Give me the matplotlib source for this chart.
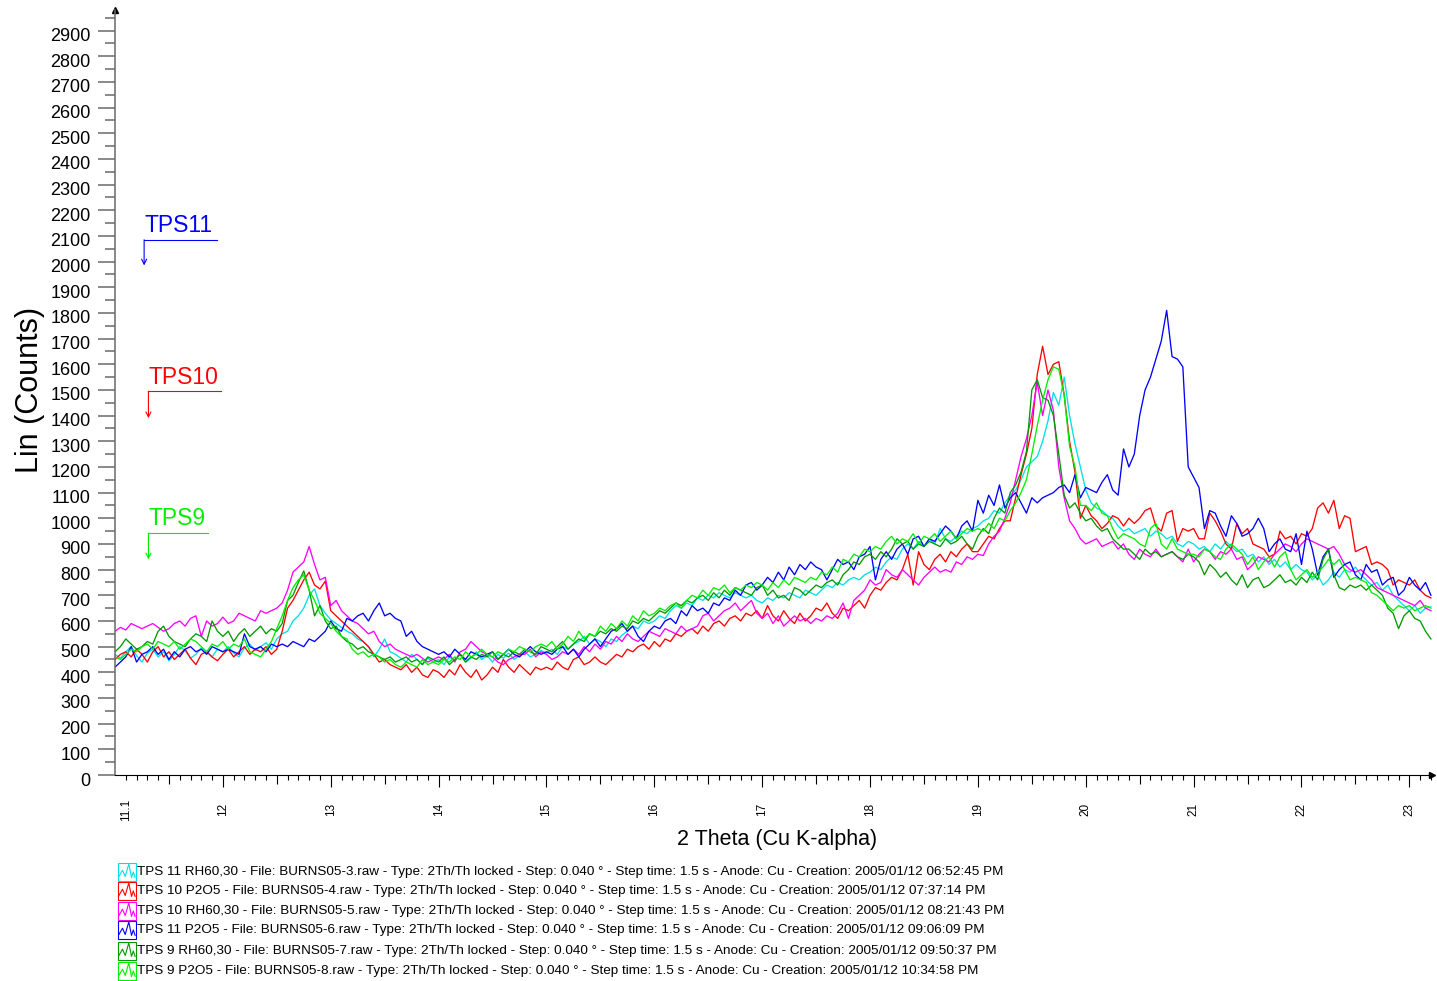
import numpy as np
import matplotlib.pyplot as plt
from matplotlib.lines import Line2D
from matplotlib.patches import Rectangle
from matplotlib.transforms import ScaledTranslation

plt.rcParams['font.family'] = ['Liberation Sans', 'DejaVu Sans']

# Lin (counts) per 0.05 deg step, starting at 11.00 deg 2-theta (one row per degree)
tps11_rh = (
    [470, 455, 480, 500, 465, 440, 475, 490, 460, 480, 445, 470, 500, 485, 455, 470, 495, 480, 460, 490] +  # 11
    [480, 500, 475, 460, 495, 510, 485, 500, 515, 490, 530, 550, 560, 600, 620, 650, 700, 725, 660, 630] +  # 12
    [605, 590, 575, 560, 550, 530, 520, 500, 460, 490, 530, 480, 470, 455, 440, 470, 450, 430, 455, 440] +  # 13
    [450, 430, 460, 445, 470, 440, 455, 480, 450, 465, 440, 470, 455, 475, 450, 465, 480, 460, 470, 485] +  # 14
    [475, 490, 470, 500, 490, 510, 520, 540, 510, 530, 520, 500, 530, 520, 545, 560, 580, 570, 600, 590] +  # 15
    [600, 620, 610, 640, 660, 650, 670, 660, 690, 680, 700, 690, 710, 700, 690, 710, 700, 690, 700, 680] +  # 16
    [670, 690, 680, 700, 690, 710, 700, 690, 720, 710, 700, 720, 740, 730, 750, 740, 760, 770, 760, 780] +  # 17
    [790, 810, 800, 830, 850, 840, 880, 900, 880, 910, 890, 920, 900, 960, 920, 910, 930, 950, 940, 960] +  # 18
    [970, 990, 1000, 1030, 1020, 1060, 1090, 1110, 1150, 1200, 1220, 1240, 1300, 1380, 1490, 1440, 1550, 1400, 1290, 1200] +  # 19
    [1110, 1060, 1040, 1030, 1010, 1000, 970, 950, 960, 940, 950, 960, 930, 950, 940, 920, 930, 900, 890, 910] +  # 20
    [900, 880, 890, 870, 900, 880, 910, 890, 870, 880, 850, 860, 830, 850, 820, 840, 810, 830, 800, 820] +  # 21
    [800, 790, 760, 780, 740, 760, 790, 770, 800, 790, 810, 780, 760, 740, 750, 720, 740, 700, 680, 660] +  # 22
    [640, 660, 630, 650, 655]  # 23
)

tps10_p2o5 = (
    [450, 470, 480, 460, 490, 470, 440, 480, 500, 460, 480, 450, 470, 490, 455, 430, 470, 480, 460, 445] +
    [470, 490, 460, 480, 500, 470, 490, 480, 500, 470, 490, 560, 650, 680, 720, 760, 790, 740, 725, 755] +
    [640, 620, 600, 580, 560, 540, 520, 500, 470, 440, 450, 430, 420, 410, 430, 400, 420, 390, 380, 410] +
    [400, 380, 410, 390, 430, 400, 380, 410, 370, 390, 420, 400, 450, 420, 400, 430, 410, 390, 420, 410] +
    [420, 410, 440, 420, 410, 450, 460, 430, 440, 460, 440, 430, 450, 470, 460, 490, 480, 500, 510, 490] +
    [520, 500, 530, 520, 550, 540, 560, 570, 550, 580, 560, 590, 600, 580, 610, 620, 600, 630, 620, 640] +
    [610, 660, 620, 600, 640, 610, 590, 630, 600, 620, 650, 640, 670, 630, 610, 650, 640, 660, 680, 650] +
    [700, 730, 720, 750, 770, 760, 800, 860, 740, 870, 820, 800, 840, 860, 830, 870, 850, 880, 900, 870] +
    [870, 900, 930, 920, 960, 990, 990, 1080, 1170, 1250, 1350, 1560, 1670, 1560, 1600, 1610, 1480, 1300, 1180, 1000] +
    [1050, 1010, 990, 960, 980, 1010, 1000, 970, 1000, 980, 1000, 1030, 1040, 970, 950, 1020, 1030, 910, 960, 950] +
    [960, 920, 920, 1020, 990, 950, 900, 880, 980, 940, 960, 900, 890, 880, 850, 860, 950, 920, 930, 900] +
    [940, 930, 960, 1040, 1060, 1020, 1070, 960, 1010, 1000, 870, 880, 890, 820, 830, 820, 800, 740, 760, 750] +
    [740, 760, 720, 700, 690]
)

tps10_rh = (
    [560, 575, 565, 590, 580, 570, 580, 590, 575, 560, 570, 590, 600, 580, 610, 620, 540, 600, 580, 590] +
    [615, 590, 600, 630, 620, 610, 600, 640, 630, 640, 650, 670, 720, 790, 810, 830, 890, 820, 760, 770] +
    [660, 680, 640, 620, 600, 590, 570, 550, 560, 520, 500, 510, 490, 480, 470, 460, 470, 455, 440, 450] +
    [460, 450, 470, 440, 480, 490, 520, 500, 480, 470, 460, 440, 430, 450, 460, 470, 470, 490, 460, 480] +
    [470, 450, 460, 480, 470, 490, 470, 500, 480, 510, 490, 520, 510, 540, 520, 550, 530, 520, 540, 560] +
    [550, 540, 570, 560, 550, 580, 560, 570, 580, 620, 630, 600, 620, 640, 650, 670, 640, 660, 680, 630] +
    [610, 630, 590, 620, 580, 600, 620, 600, 610, 590, 610, 600, 620, 610, 630, 670, 610, 680, 700, 720] +
    [760, 740, 750, 800, 780, 770, 800, 780, 760, 740, 770, 790, 810, 790, 800, 790, 830, 820, 850, 840] +
    [860, 855, 900, 930, 950, 1000, 1060, 1150, 1240, 1310, 1400, 1530, 1400, 1500, 1420, 1200, 1080, 990, 960, 920] +
    [900, 910, 920, 890, 900, 910, 880, 900, 860, 840, 880, 860, 850, 880, 850, 860, 870, 850, 830, 880] +
    [830, 860, 880, 870, 840, 870, 860, 880, 840, 850, 800, 820, 850, 840, 830, 860, 880, 900, 890, 870] +
    [900, 920, 910, 900, 890, 880, 890, 860, 820, 800, 790, 800, 780, 760, 730, 720, 710, 700, 690, 680] +
    [670, 660, 680, 650, 640]
)

tps11_p2o5 = (
    [420, 440, 460, 500, 440, 470, 480, 500, 470, 490, 450, 480, 460, 490, 500, 480, 490, 470, 500, 490] +
    [480, 490, 480, 470, 550, 500, 490, 500, 480, 510, 500, 510, 500, 520, 510, 500, 530, 520, 540, 560] +
    [600, 570, 560, 610, 600, 620, 630, 600, 640, 670, 620, 630, 610, 600, 540, 560, 520, 500, 490, 480] +
    [470, 480, 460, 490, 470, 450, 480, 470, 460, 470, 480, 450, 470, 490, 470, 460, 480, 500, 480, 470] +
    [480, 470, 490, 500, 470, 490, 460, 490, 510, 530, 500, 530, 560, 570, 590, 560, 580, 540, 520, 560] +
    [580, 570, 600, 610, 590, 640, 620, 660, 640, 650, 630, 670, 660, 690, 680, 720, 700, 740, 750, 720] +
    [740, 770, 750, 790, 760, 810, 780, 820, 800, 830, 810, 800, 760, 800, 840, 820, 830, 800, 850, 860] +
    [890, 760, 840, 870, 840, 880, 900, 860, 920, 930, 890, 920, 910, 940, 970, 950, 920, 970, 990, 950] +
    [1070, 1020, 1090, 1050, 1130, 1040, 1080, 1100, 1060, 1020, 1080, 1060, 1080, 1090, 1100, 1120, 1130, 1100, 1170, 1080] +
    [1120, 1110, 1100, 1140, 1170, 1110, 1090, 1270, 1200, 1250, 1400, 1500, 1550, 1620, 1690, 1810, 1630, 1620, 1590, 1200] +
    [1160, 1120, 960, 1030, 1020, 970, 930, 1010, 980, 930, 940, 960, 1000, 960, 870, 900, 920, 880, 870, 940] +
    [820, 950, 880, 780, 850, 880, 770, 800, 820, 830, 780, 760, 820, 790, 800, 740, 760, 770, 700, 720] +
    [770, 740, 720, 750, 700]
)

tps9_rh = (
    [480, 500, 530, 510, 490, 500, 520, 510, 560, 580, 540, 520, 510, 500, 530, 550, 540, 520, 600, 560] +
    [540, 560, 520, 550, 570, 540, 560, 580, 550, 570, 560, 590, 680, 700, 750, 795, 720, 620, 660, 600] +
    [570, 580, 540, 520, 510, 490, 500, 480, 470, 460, 450, 460, 440, 450, 460, 440, 450, 430, 460, 450] +
    [440, 460, 430, 450, 470, 440, 460, 450, 470, 460, 480, 450, 470, 460, 480, 470, 490, 480, 470, 500] +
    [490, 480, 500, 520, 490, 510, 530, 520, 550, 540, 560, 550, 570, 560, 580, 570, 600, 590, 610, 600] +
    [620, 640, 630, 650, 670, 660, 680, 670, 690, 700, 680, 710, 690, 720, 700, 730, 720, 710, 700, 730] +
    [740, 700, 720, 690, 700, 680, 730, 720, 700, 720, 740, 730, 750, 760, 740, 780, 800, 830, 820, 850] +
    [860, 840, 870, 850, 880, 920, 900, 910, 880, 900, 890, 910, 900, 890, 920, 900, 910, 930, 900, 880] +
    [930, 960, 940, 1000, 1040, 1020, 1100, 1130, 1180, 1260, 1500, 1540, 1470, 1460, 1400, 1250, 1090, 1040, 1060, 1020] +
    [990, 1000, 970, 950, 960, 920, 900, 880, 880, 860, 840, 880, 860, 870, 850, 860, 870, 850, 840, 860] +
    [850, 830, 780, 820, 800, 770, 790, 760, 740, 780, 730, 760, 770, 730, 740, 760, 780, 750, 760, 740] +
    [770, 750, 790, 760, 840, 880, 780, 730, 720, 740, 730, 740, 720, 740, 720, 700, 650, 630, 570, 620] +
    [640, 610, 600, 560, 530]
)

tps9_p2o5 = (
    [460, 450, 470, 490, 480, 500, 510, 490, 520, 510, 500, 520, 490, 510, 530, 520, 500, 480, 510, 500] +
    [520, 490, 510, 500, 530, 480, 470, 460, 490, 520, 570, 620, 680, 730, 760, 780, 720, 680, 630, 610] +
    [590, 560, 540, 530, 490, 470, 480, 460, 470, 460, 440, 450, 430, 420, 440, 430, 420, 450, 430, 440] +
    [430, 450, 440, 460, 450, 480, 460, 470, 490, 470, 460, 480, 470, 490, 480, 500, 490, 480, 500, 510] +
    [500, 520, 490, 510, 540, 520, 560, 530, 550, 540, 580, 560, 590, 570, 600, 580, 620, 600, 640, 620] +
    [630, 650, 640, 660, 670, 650, 680, 700, 690, 720, 700, 730, 720, 740, 710, 730, 720, 740, 730, 750] +
    [740, 720, 750, 730, 760, 740, 770, 760, 750, 770, 760, 790, 780, 810, 790, 840, 830, 860, 850, 880] +
    [870, 890, 880, 910, 930, 900, 920, 910, 940, 900, 930, 920, 940, 910, 930, 950, 920, 940, 960, 950] +
    [960, 950, 980, 960, 1000, 990, 1030, 1060, 1100, 1150, 1250, 1360, 1460, 1540, 1590, 1580, 1480, 1280, 1200, 1050] +
    [1050, 1030, 1060, 1020, 1010, 960, 920, 940, 930, 920, 900, 890, 960, 980, 900, 880, 920, 880, 870, 860] +
    [860, 850, 880, 870, 850, 840, 880, 900, 880, 860, 820, 850, 800, 830, 850, 810, 850, 870, 800, 760] +
    [780, 800, 770, 790, 810, 840, 820, 840, 800, 760, 770, 760, 750, 710, 700, 680, 660, 640, 660, 650] +
    [660, 640, 650, 660, 650]
)

scan_start, scan_step = 11.0, 0.05

scans = [
    (tps11_rh, '#00e0e6',
     "TPS 11 RH60,30 - File: BURNS05-3.raw - Type: 2Th/Th locked - Step: 0.040 ° - Step time: 1.5 s - Anode: Cu - Creation: 2005/01/12 06:52:45 PM"),
    (tps10_p2o5, '#ff0000',
     "TPS 10 P2O5 - File: BURNS05-4.raw - Type: 2Th/Th locked - Step: 0.040 ° - Step time: 1.5 s - Anode: Cu - Creation: 2005/01/12 07:37:14 PM"),
    (tps10_rh, '#ff00ff',
     "TPS 10 RH60,30 - File: BURNS05-5.raw - Type: 2Th/Th locked - Step: 0.040 ° - Step time: 1.5 s - Anode: Cu - Creation: 2005/01/12 08:21:43 PM"),
    (tps11_p2o5, '#0000ff',
     "TPS 11 P2O5 - File: BURNS05-6.raw - Type: 2Th/Th locked - Step: 0.040 ° - Step time: 1.5 s - Anode: Cu - Creation: 2005/01/12 09:06:09 PM"),
    (tps9_rh, '#009a00',
     "TPS 9 RH60,30 - File: BURNS05-7.raw - Type: 2Th/Th locked - Step: 0.040 ° - Step time: 1.5 s - Anode: Cu - Creation: 2005/01/12 09:50:37 PM"),
    (tps9_p2o5, '#00f000',
     "TPS 9 P2O5 - File: BURNS05-8.raw - Type: 2Th/Th locked - Step: 0.040 ° - Step time: 1.5 s - Anode: Cu - Creation: 2005/01/12 10:34:58 PM"),
]

# sample tags with bent arrows: text, colour, x start, x end of bar, bar height, arrow tip
tags = [
    ("TPS11", '#0000ff', 11.27, 11.95, 2085, 1985),
    ("TPS10", '#ff0000', 11.31, 11.98, 1495, 1390),
    ("TPS9", '#00f000', 11.31, 11.86, 942, 840),
]

W, H = 1437, 981
fig = plt.figure(figsize=(W / 100, H / 100), dpi=100)
ax = fig.add_axes([115 / W, 1 - 775 / H, (1432 - 115) / W, (775 - 10) / H])

for counts, col, _ in scans:
    tt = scan_start + scan_step * np.arange(len(counts))
    ax.plot(tt, counts, color=col, lw=0.95)

ax.set_xlim(11.0, 23.21)
ax.set_ylim(0, 2980)

# x ticks: integers long, halves medium, tenths short
ints = list(range(12, 24))
halves = [k + 0.5 for k in range(11, 23)]
major = [11.1] + ints + halves
labels = ['11.1'] + [str(k) for k in ints] + [''] * len(halves)
ax.set_xticks(major, labels)
tenths = [round(11.1 + 0.1 * i, 1) for i in range(122)]
minor = [v for v in tenths if v not in major and abs(v - round(v)) > 1e-6 and v <= 23.2]
ax.set_xticks(minor, minor=True)
ax.tick_params(axis='x', which='major', length=8.6, width=0.8, color='black',
               labelsize=8.5, pad=16.5, labelrotation=90)
ax.tick_params(axis='x', which='minor', length=3.6, width=0.8, color='black')
for tick, v in zip(ax.xaxis.get_major_ticks(), major):
    if v == 11.1:
        tick.tick1line.set_markersize(3.6)
    elif v in halves:
        tick.tick1line.set_markersize(6.5)
for lbl in ax.get_xticklabels():
    lbl.set_va('center')

ax.set_yticks(range(0, 3000, 100))
ax.set_yticks(range(50, 3000, 100), minor=True)
ax.tick_params(axis='y', which='major', length=12.5, width=1.1, color='#6a6a6a',
               labelsize=13, pad=5)
ax.tick_params(axis='y', which='minor', length=7.5, width=1.1, color='#6a6a6a')
shift = ScaledTranslation(0, -0.04, fig.dpi_scale_trans)
for lbl in ax.get_yticklabels():
    lbl.set_transform(lbl.get_transform() + shift)

for side in ('top', 'right'):
    ax.spines[side].set_visible(False)
ax.spines['left'].set_color('#6a6a6a')
ax.spines['left'].set_linewidth(1.1)
ax.spines['bottom'].set_linewidth(0.8)
ax.plot([0], [1], marker='^', color='black', ms=4, transform=ax.transAxes, clip_on=False)
ax.plot([1], [0], marker='>', color='black', ms=4, transform=ax.transAxes, clip_on=False)

for txt, col, x0, x1, ybar, ytip in tags:
    ax.plot([x1, x0], [ybar, ybar], color=col, lw=0.8)
    ax.annotate('', xy=(x0, ytip), xytext=(x0, ybar),
                arrowprops=dict(arrowstyle='->', color=col, lw=0.8,
                                shrinkA=0, shrinkB=0, mutation_scale=9))
    ax.text(x0, ybar + 30, txt, color=col, fontsize=16.5, va='baseline', ha='left')

fig.text(30 / W, 1 - 390 / H, 'Lin (Counts)', rotation=90, fontsize=22,
         ha='center', va='center')
fig.text(777 / W, 1 - 840 / H, '2 Theta (Cu K-alpha)', fontsize=15.5,
         ha='center', va='center')

# legend block below the axis
row_y = [872, 891, 911, 930, 951, 971]
peak_shape = [(0.05, 0.25), (0.25, 0.6), (0.4, 0.25), (0.6, 0.95), (0.75, 0.2), (0.85, 0.5), (0.95, 0.2)]
for (counts, col, text), yc in zip(scans, row_y):
    bx, by, bw, bh = 118, yc + 9, 18, 18
    fig.add_artist(Rectangle((bx / W, 1 - by / H), bw / W, bh / H, fill=False,
                             edgecolor=col, lw=0.8, transform=fig.transFigure))
    px = [(bx + u * bw) / W for u, _ in peak_shape]
    py = [1 - (by - v * bh) / H for _, v in peak_shape]
    fig.add_artist(Line2D(px, py, color=col, lw=0.8, transform=fig.transFigure))
    fig.text(137 / W, 1 - yc / H, text, fontsize=9.7, ha='left', va='center')

fig.savefig('out.png', dpi=100)
